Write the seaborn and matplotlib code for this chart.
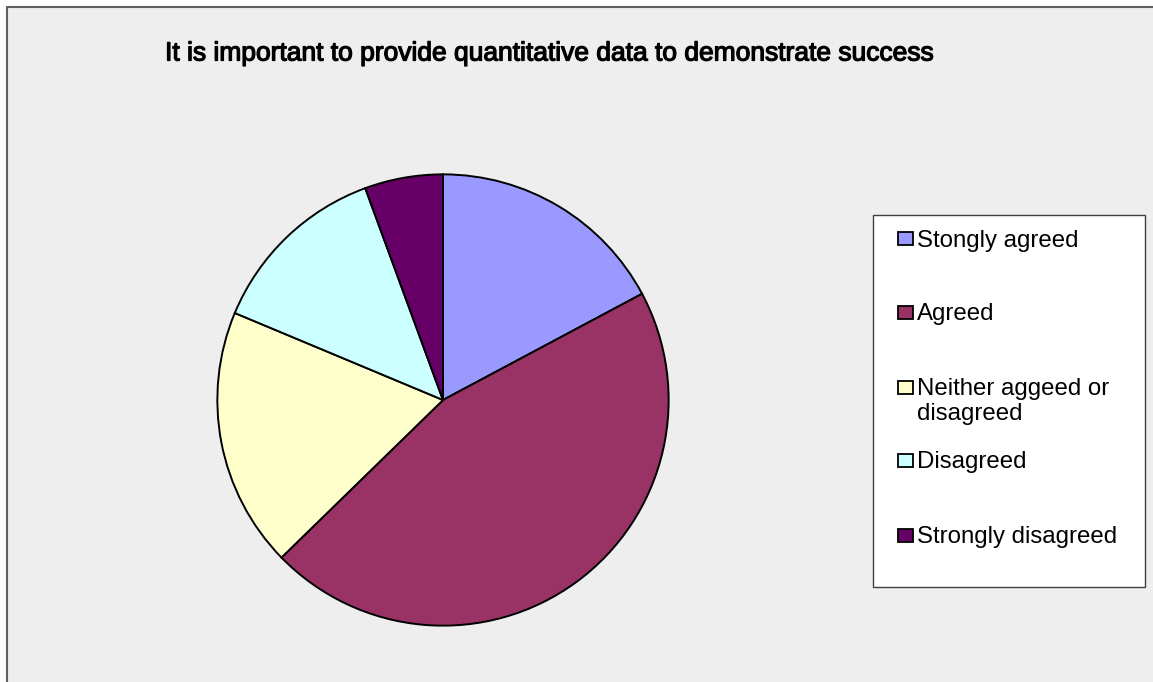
import matplotlib
matplotlib.use("Agg")
import matplotlib.pyplot as plt
import matplotlib.patheffects as pe
import seaborn as sns
from matplotlib.patches import Rectangle

categories = ["Stongly agreed", "Agreed", "Neither aggeed or\ndisagreed", "Disagreed", "Strongly disagreed"]
values = [17.2, 45.5, 18.6, 13.1, 5.6]
colors = ["#9999FF", "#993366", "#FFFFCC", "#CCFFFF", "#660066"]
title = "It is important to provide quantitative data to demonstrate success"

sns.set_theme(style="white")
plt.rcParams['font.family'] = ['Liberation Sans', 'DejaVu Sans']

W, H = 1153, 682
fig = plt.figure(figsize=(W / 100, H / 100), dpi=100)
fig.patch.set_facecolor("white")

def fx(x):
    return x / W

def fy(y):
    return 1 - y / H

# chart area background with left/top border
bg = Rectangle((fx(7), 0), 1 - fx(7), fy(7), transform=fig.transFigure,
               facecolor="#EEEEEE", edgecolor="none", zorder=0)
fig.add_artist(bg)
fig.add_artist(plt.Line2D([fx(7), fx(7)], [0, fy(7)], transform=fig.transFigure, color="#606060", lw=1.5))
fig.add_artist(plt.Line2D([fx(7), 1], [fy(7), fy(7)], transform=fig.transFigure, color="#606060", lw=1.5))

cx, cy, r = 443, 400, 227
ax = fig.add_axes([fx(cx - r), fy(cy + r), fx(2 * r), (2 * r) / H])
ax.set_facecolor("none")
ax.pie(values, colors=colors, startangle=90, counterclock=False,
       wedgeprops=dict(edgecolor="black", linewidth=1.4))
ax.set_xlim(-1.006, 1.006)
ax.set_ylim(-1.006, 1.006)
ax.set_aspect("auto")
ax.axis("off")

fig.text(fx(550), fy(60.5), title, ha="center", va="baseline", fontsize=19.0, color="black",
         path_effects=[pe.withStroke(linewidth=0.9, foreground="black")])

# legend box
lg = Rectangle((fx(873), fy(587)), fx(1145 - 873), (587 - 215) / H, transform=fig.transFigure,
               facecolor="white", edgecolor="#404040", lw=1.0, zorder=1)
fig.add_artist(lg)
baselines = [246.5, 320, 395, 468, 543]
for lab, col, b in zip(categories, colors, baselines):
    ym = b - 8
    fig.add_artist(Rectangle((fx(898), fy(ym + 6.5)), fx(15), 13 / H, transform=fig.transFigure,
                             facecolor=col, edgecolor="black", lw=1.3, zorder=2))
    fig.text(fx(917), fy(b), lab.split("\n")[0], ha="left", va="baseline", fontsize=17.3,
             color="black", zorder=3)
    if "\n" in lab:
        fig.text(fx(917), fy(b + 25), lab.split("\n")[1], ha="left", va="baseline",
                 fontsize=17.3, color="black", zorder=3)

fig.savefig("out.png", dpi=100)
